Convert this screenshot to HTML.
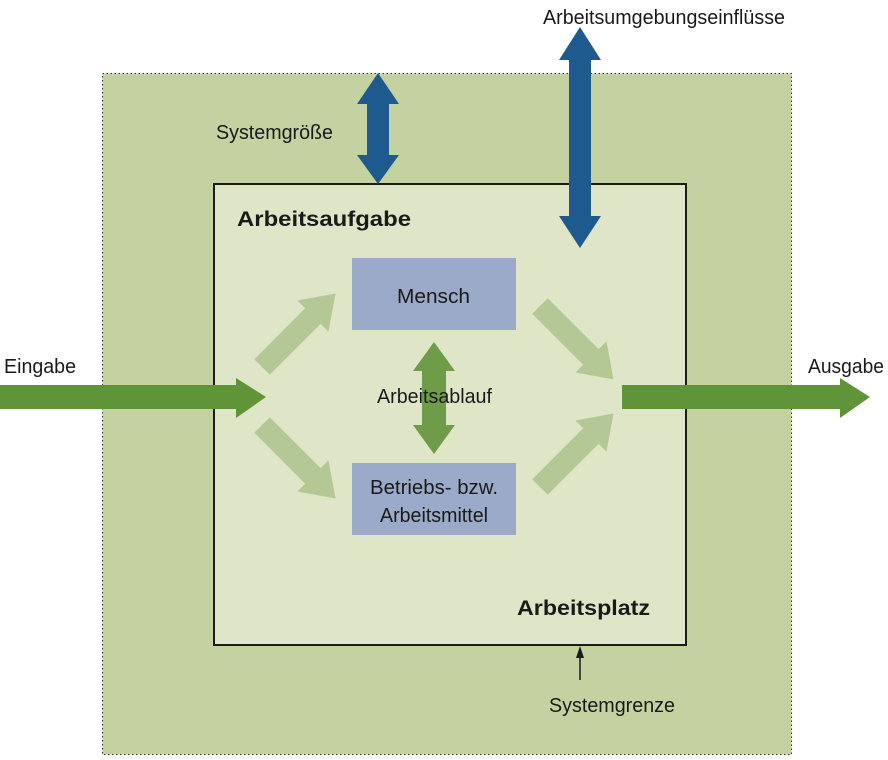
<!DOCTYPE html>
<html><head><meta charset="utf-8"><style>
html,body{margin:0;padding:0;background:#fff}
svg{display:block}
text{font-family:"Liberation Sans",sans-serif;fill:#1a1a1a}
</style></head><body>
<svg width="888" height="760" viewBox="0 0 888 760">
<rect x="102.5" y="73.5" width="689" height="681" fill="#c3d2a0" stroke="#333" stroke-width="1" stroke-dasharray="1.5,2.5"/>
<rect x="214" y="184" width="472" height="461" fill="#dfe6c7" stroke="#1a1a1a" stroke-width="2"/>
<polygon points="378,73 399,104 389,104 389,155 399,155 378,184 357,155 367,155 367,104 357,104" fill="#1e5a8e"/>
<polygon points="580,27 601,60 591,60 591,216 601,216 580,248 559,216 569,216 569,60 559,60" fill="#1e5a8e"/>
<rect x="352" y="258" width="164" height="72" fill="#9aaac8"/>
<rect x="352" y="463" width="164" height="72" fill="#9aaac8"/>
<polygon points="434,342 455,371 446,371 446,425 455,425 434,454 413,425 422,425 422,371 413,371" fill="#6e9c48"/>
<g fill="#b4c895">
<polygon points="0,-11 72,-11 72,-22 104,0 72,22 72,11 0,11" transform="translate(262,367) rotate(-45)"/>
<polygon points="0,-11 72,-11 72,-22 104,0 72,22 72,11 0,11" transform="translate(262,425) rotate(45)"/>
<polygon points="0,-11 72,-11 72,-22 104,0 72,22 72,11 0,11" transform="translate(540,306) rotate(45)"/>
<polygon points="0,-11 72,-11 72,-22 104,0 72,22 72,11 0,11" transform="translate(540,487) rotate(-45)"/>
</g>
<polygon points="0,385 236,385 236,378 266,397 236,418 236,409 0,409" fill="#5f9439"/>
<polygon points="622,385 840,385 840,378 870,397 840,418 840,409 622,409" fill="#5f9439"/>
<line x1="580" y1="680" x2="580" y2="655" stroke="#1a1a1a" stroke-width="1.5"/>
<polygon points="580,646 576,658 584,658" fill="#1a1a1a"/>
<text x="543" y="24" font-size="20" textLength="242" lengthAdjust="spacingAndGlyphs">Arbeitsumgebungseinflüsse</text>
<text x="216" y="139" font-size="20" textLength="117" lengthAdjust="spacingAndGlyphs">Systemgröße</text>
<text x="237" y="226" font-size="21" font-weight="bold" textLength="174" lengthAdjust="spacingAndGlyphs">Arbeitsaufgabe</text>
<text x="397" y="303" font-size="20" textLength="73" lengthAdjust="spacingAndGlyphs">Mensch</text>
<text x="377" y="403" font-size="20" textLength="115" lengthAdjust="spacingAndGlyphs">Arbeitsablauf</text>
<text x="370" y="494" font-size="20" textLength="128" lengthAdjust="spacingAndGlyphs">Betriebs- bzw.</text>
<text x="380" y="522" font-size="20" textLength="108" lengthAdjust="spacingAndGlyphs">Arbeitsmittel</text>
<text x="4" y="373" font-size="20" textLength="72" lengthAdjust="spacingAndGlyphs">Eingabe</text>
<text x="808" y="373" font-size="20" textLength="76" lengthAdjust="spacingAndGlyphs">Ausgabe</text>
<text x="517" y="615" font-size="21" font-weight="bold" textLength="133" lengthAdjust="spacingAndGlyphs">Arbeitsplatz</text>
<text x="549" y="712" font-size="20" textLength="126" lengthAdjust="spacingAndGlyphs">Systemgrenze</text>
</svg>
</body></html>
